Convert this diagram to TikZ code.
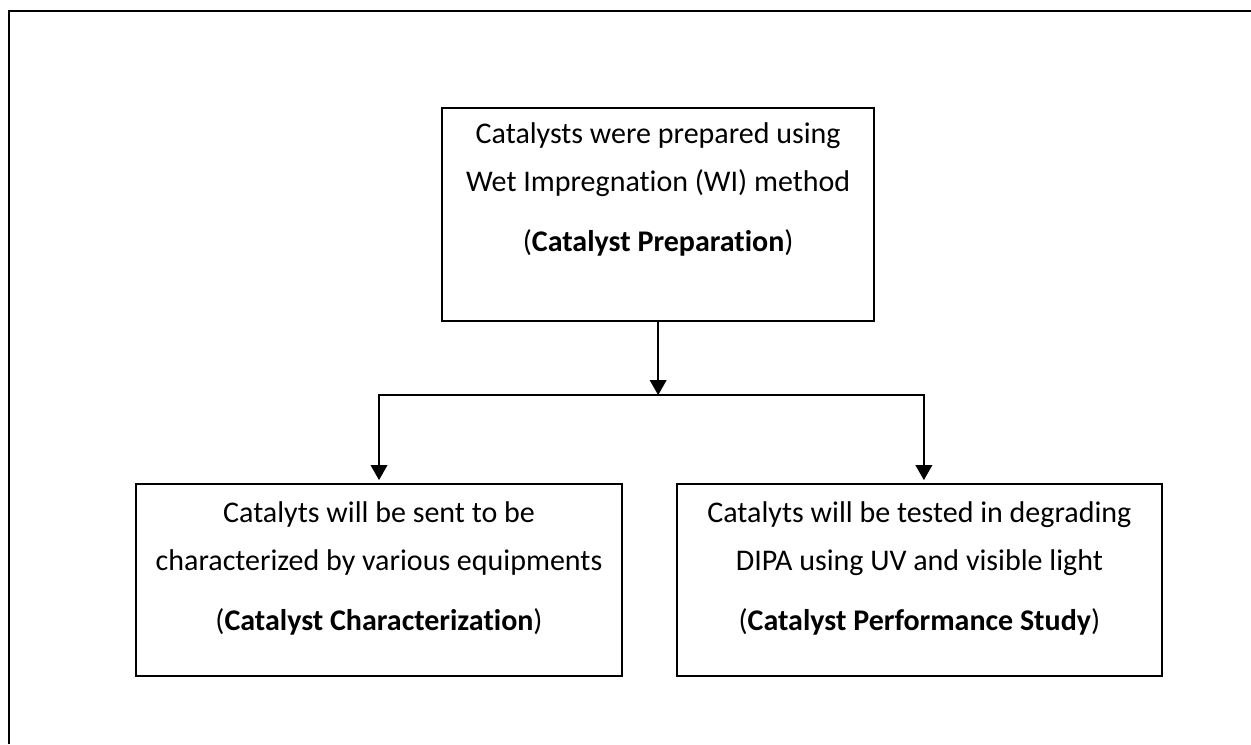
\documentclass[tikz,border=0pt]{standalone}
\usepackage{fontspec}
\setmainfont{Carlito}[Ligatures=NoCommon]
\usepackage{xcolor}
\usepackage{tikz}
\usetikzlibrary{arrows.meta, positioning, calc}

\begin{document}
\begin{tikzpicture}[
    stagebox/.style={draw=black, line width=0.6pt, minimum width=#1, inner sep=0pt},
    stagetext/.style={align=center, inner sep=0pt, font=\fontsize{10}{16}\selectfont},
    flow/.style={line width=0.65pt, -{Triangle[width=5.5pt, length=5pt]}},
    frame/.style={line width=0.8pt}
  ]
    \useasboundingbox (0,0) rectangle (14.655,-8.716);
    % page frame, only the top and left rules show
    \draw[frame] (0.105,-8.716) -- (0.105,-0.129) -- (14.655,-0.129);

    % boxes
    \node[stagebox=5.06cm, minimum height=2.50cm] (prep) at (7.71,-2.513) {};
    \node[stagebox=5.69cm, minimum height=2.25cm] (charac) at (4.44,-6.795) {};
    \node[stagebox=5.68cm, minimum height=2.25cm] (perf) at (10.77,-6.795) {};

    % box texts
    \node[stagetext] (prep-text) at ([yshift=0.29cm]prep.center)
      {Catalysts were prepared using\\ Wet Impregnation (WI) method\\[4pt] (\textbf{Catalyst Preparation})};
    \node[stagetext] (charac-text) at ([yshift=0.135cm]charac.center)
      {Catalyts will be sent to be\\ characterized by various equipments\\[4pt] (\textbf{Catalyst Characterization})};
    \node[stagetext] (perf-text) at ([yshift=0.135cm]perf.center)
      {Catalyts will be tested in degrading\\ DIPA using UV and visible light\\[4pt] (\textbf{Catalyst Performance Study})};

    % connectors
    \coordinate (split) at ($(prep.south)+(0,-0.855)$);
    \coordinate (perf-in) at ([xshift=0.053cm]perf.north);
    \draw[flow] (prep.south) -- (split);
    \draw[flow, shorten >=1pt] (split) -| (charac.north);
    \draw[flow, shorten >=1pt] (split) -| (perf-in);
  \end{tikzpicture}
\end{document}
